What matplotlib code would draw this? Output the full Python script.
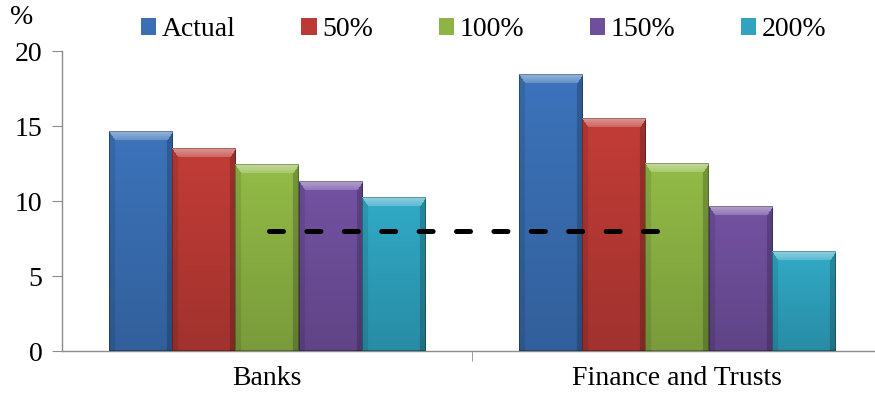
import numpy as np
import matplotlib
matplotlib.use("Agg")
import matplotlib.pyplot as plt
from matplotlib.colors import to_rgb

categories = ["Banks", "Finance and Trusts"]
series = ["Actual", "50%", "100%", "150%", "200%"]
values = {
    "Actual": [14.6, 18.4],
    "50%":    [13.5, 15.5],
    "100%":   [12.4, 12.5],
    "150%":   [11.3, 9.6],
    "200%":   [10.2, 6.6],
}
colors = ["#3a6fb4", "#bb3a35", "#8db444", "#6f4f9c", "#2fa3bf"]
threshold = 8.0
threshold_span = [0.004, 0.953]
y_ticks = [0, 5, 10, 15, 20]

plt.rcParams["font.family"] = ["Liberation Serif", "DejaVu Serif"]
FS = 20

fig = plt.figure(figsize=(8.75, 3.96), dpi=100)
ax = fig.add_axes([0.0709, 0.1136, 0.9291, 0.7576])

n = len(series)
group_width = 316 / 410
bar_w = group_width / n
x = np.arange(len(categories))

ax.set_xlim(-0.5, 1.483)
ax.set_ylim(0, 20)


def shaded_image(rgb, wpx, hpx):
    """Bevelled face for one bar, sized in display pixels."""
    wpx = max(int(round(wpx)), 2)
    hpx = max(int(round(hpx)), 2)
    rgb = np.array(rgb)
    ii, jj = np.mgrid[0:hpx, 0:wpx]
    yfrac = ii / max(hpx - 1, 1)
    fac = 1.04 - 0.18 * yfrac
    img = rgb[None, None, :] * fac[..., None]
    b, t = 6.0, 9.0
    top = (ii < t) & (jj >= ii * b / t) & (jj < wpx - ii * b / t)
    left = (jj < b) & ~top
    right = (jj >= wpx - b) & ~top
    shade = 0.45 - 0.25 * (ii / t)
    img[top] = img[top] * (1 - shade[top][:, None]) + shade[top][:, None]
    img[left] = img[left] * 0.9
    img[right] = img[right] * 0.8
    edge = (ii == 0) | (jj == 0) | (jj == wpx - 1) | (ii == hpx - 1)
    img[edge] = img[edge] * 0.72
    return np.clip(img, 0, 1)


fig.canvas.draw()
sx = abs(ax.transData.transform((1, 0))[0] - ax.transData.transform((0, 0))[0])
sy = abs(ax.transData.transform((0, 1))[1] - ax.transData.transform((0, 0))[1])

handles = []
for k, name in enumerate(series):
    pos = x - group_width / 2 + bar_w * (k + 0.5)
    bars = ax.bar(pos, values[name], width=bar_w, color=colors[k],
                  edgecolor="none", label=name, zorder=2)
    handles.append(bars)
    for r in bars:
        x0, y0 = r.get_x(), r.get_y()
        w, h = r.get_width(), r.get_height()
        img = shaded_image(to_rgb(colors[k]), w * sx, h * sy)
        ax.imshow(img, extent=(x0, x0 + w, y0, y0 + h), aspect="auto",
                  interpolation="bilinear", zorder=3)

ax.plot(threshold_span, [threshold, threshold], color="black", lw=3.6,
        dashes=(2.8, 4.68), dash_capstyle="round", zorder=5)

ax.set_xlim(-0.5, 1.483)
ax.set_ylim(0, 20)

for s in ["top", "right"]:
    ax.spines[s].set_visible(False)
for s in ["left", "bottom"]:
    ax.spines[s].set_color("#8c8c8c")
    ax.spines[s].set_linewidth(1.0)

ax.set_yticks(y_ticks)
ax.tick_params(axis="y", colors="#8c8c8c", length=7, labelsize=FS,
               labelcolor="black", pad=7)
ax.set_xticks(x)
ax.set_xticklabels(categories)
ax.tick_params(axis="x", length=0, labelsize=FS, pad=11)
ax.set_xticks([0.5], minor=True)
ax.tick_params(axis="x", which="minor", length=7, color="#8c8c8c")

fig.text(0.011, 0.955, "%", fontsize=FS, ha="left", va="center")

leg = fig.legend(handles=handles, labels=series, loc="center left",
                 bbox_to_anchor=(141 / 875, 0.925), ncol=5, frameon=False,
                 fontsize=FS, handlelength=0.55, handleheight=0.55,
                 handletextpad=0.2, columnspacing=2.36, borderpad=0,
                 borderaxespad=0)

fig.savefig("out.png", dpi=100)
